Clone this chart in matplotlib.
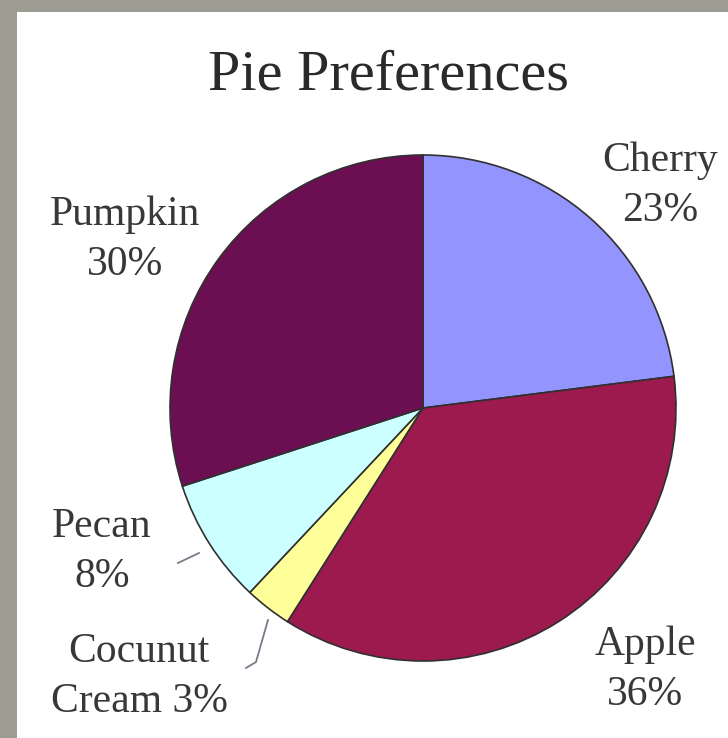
import matplotlib.pyplot as plt
from matplotlib.patches import Rectangle

# pie data, clockwise from 12 o'clock
flavours = ['Cherry', 'Apple', 'Cocunut\nCream', 'Pecan', 'Pumpkin']
shares = [23, 36, 3, 8, 30]
slice_colors = ['#9494FF', '#9C1A4E', '#FFFF99', '#CCFFFF', '#6B0F52']

# label text and where it sits (pixel positions)
label_text = ['Cherry\n23%', 'Apple\n36%', 'Cocunut\nCream 3%', 'Pecan\n8%', 'Pumpkin\n30%']
label_px = [(660, 186), (645, 670), (139, 677), (102, 552), (125, 240)]

W, H = 728, 738
cx, cy, r = 423, 408, 253   # pie centre and radius in pixels

fig = plt.figure(figsize=(W / 100, H / 100), dpi=100)
fig.patch.set_facecolor('#9c9c92')
fig.add_artist(Rectangle((17 / W, 0), 1, (H - 12) / H, transform=fig.transFigure,
                         facecolor='white', edgecolor='none', zorder=-5))

ax = fig.add_axes([0, 0, 1, 1])
ax.set_zorder(2)
ax.set_facecolor('none')
ax.pie(shares, colors=slice_colors, startangle=90, counterclock=False,
       radius=1, center=(0, 0),
       wedgeprops=dict(edgecolor='#303030', linewidth=1.2))
ax.set_aspect('auto')
ax.set_xlim(-cx / r, (W - cx) / r)
ax.set_ylim((cy - H) / r, cy / r)
ax.axis('off')


def px(x, y):
    return (x - cx) / r, (cy - y) / r


serif = ['Liberation Serif', 'DejaVu Serif']
for txt, (x, y) in zip(label_text, label_px):
    ax.text(*px(x, y), txt, ha='center', va='center', fontsize=30,
            family=serif, color='#383838', linespacing=1.38)

ax.text(*px(388, 76), 'Pie Preferences', ha='center', va='center',
        fontsize=42, family=serif, color='#2a2a2a')

# leader lines
lx, ly = zip(px(178, 563), px(199, 553))
ax.plot(lx, ly, color='#7a7a8a', lw=1.3)
lx, ly = zip(px(246, 668), px(256, 662), px(268, 620))
ax.plot(lx, ly, color='#7a7a8a', lw=1.3)

fig.savefig('out.png', dpi=100)
